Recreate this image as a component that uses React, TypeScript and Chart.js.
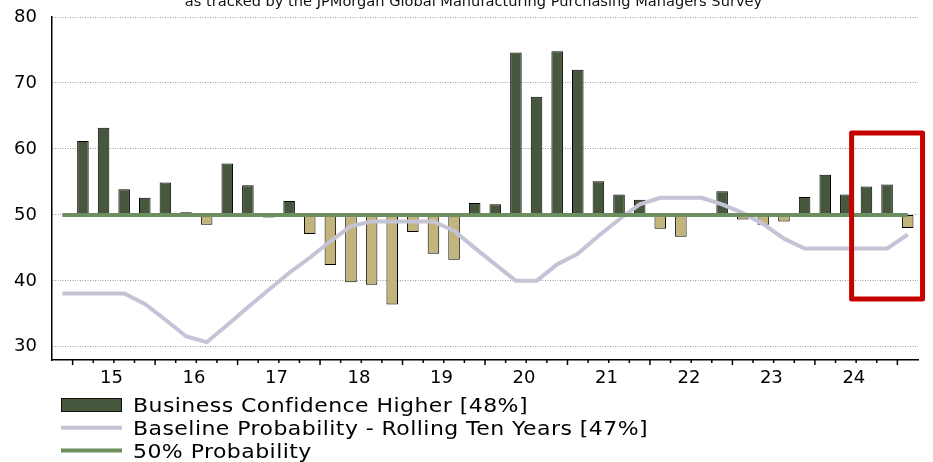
import React, { useEffect, useRef } from 'react';
import { Chart, registerables } from 'chart.js';

Chart.register(...registerables);

// Quarterly survey periods, 2014 Q4 through 2025 Q1
const quarters = [
  '2014 Q4',
  '2015 Q1', '2015 Q2', '2015 Q3', '2015 Q4',
  '2016 Q1', '2016 Q2', '2016 Q3', '2016 Q4',
  '2017 Q1', '2017 Q2', '2017 Q3', '2017 Q4',
  '2018 Q1', '2018 Q2', '2018 Q3', '2018 Q4',
  '2019 Q1', '2019 Q2', '2019 Q3', '2019 Q4',
  '2020 Q1', '2020 Q2', '2020 Q3', '2020 Q4',
  '2021 Q1', '2021 Q2', '2021 Q3', '2021 Q4',
  '2022 Q1', '2022 Q2', '2022 Q3', '2022 Q4',
  '2023 Q1', '2023 Q2', '2023 Q3', '2023 Q4',
  '2024 Q1', '2024 Q2', '2024 Q3', '2024 Q4',
  '2025 Q1',
];

// Share of respondents reporting higher business confidence (%)
const businessConfidence: (number | null)[] = [
  null,
  61.2, 63.2, 53.9, 52.6,
  54.9, 50.4, 48.5, 57.8,
  54.5, 49.6, 52.1, 47.1,
  42.4, 39.8, 39.4, 36.4,
  47.4, 44.1, 43.2, 51.8,
  51.6, 74.6, 67.9, 74.8,
  72.0, 55.1, 53.1, 52.3,
  47.9, 46.7, 49.7, 53.6,
  49.3, 48.5, 49.0, 52.7,
  56.1, 53.1, 54.3, 54.6,
  48.0,
];

// Rolling ten-year baseline probability (%)
const baselineProbability = [
  38.1,
  38.1, 38.1, 38.1, 36.5,
  34.1, 31.6, 30.7, 33.3,
  36.0, 38.6, 41.2, 43.5,
  46.0, 48.3, 49.0, 49.0,
  49.0, 49.0, 47.6, 45.0,
  42.5, 40.0, 40.0, 42.5,
  44.1, 46.8, 49.3, 51.6,
  52.6, 52.6, 52.6, 51.6,
  50.3, 48.6, 46.4, 44.9,
  44.9, 44.9, 44.9, 44.9,
  47.0,
];

const PROBABILITY_LEVEL = 50;
const yTickValues = [30, 40, 50, 60, 70, 80];

const seriesNames = [
  'Business Confidence Higher [48%]',
  'Baseline Probability - Rolling Ten Years [47%]',
  '50% Probability',
];

const subtitle = 'as tracked by the JPMorgan Global Manufacturing Purchasing Managers Survey';

// Highlighted window: category index span and value span
const highlightFrom = 38.28;
const highlightTo = 41.72;
const highlightTop = 62.4;
const highlightBottom = 37.25;

const DARK = '#46573e';
const TAN = '#c3b47b';
const GRAY = '#c5c3d6';
const GREEN = '#6d8e5f';
const RED = '#c40000';
const FONT = '"DejaVu Sans", Verdana, sans-serif';

const subtitlePlugin = {
  id: 'cutSubtitle',
  afterDraw(chart: any) {
    const { ctx } = chart;
    ctx.save();
    ctx.font = `14.6px ${FONT}`;
    ctx.fillStyle = '#111';
    ctx.textAlign = 'center';
    ctx.textBaseline = 'alphabetic';
    ctx.fillText(subtitle, chart.width / 2 + 7, 5.5);
    ctx.restore();
  },
};

const tickMarksPlugin = {
  id: 'quarterTicks',
  afterDraw(chart: any) {
    const { ctx } = chart;
    const x = chart.scales.x;
    const yBase = chart.chartArea.bottom;
    ctx.save();
    ctx.strokeStyle = '#000';
    ctx.lineWidth = 1.5;
    for (let k = 1; k < quarters.length; k++) {
      const px = x.getPixelForValue(k - 0.5);
      const isYearStart = quarters[k].endsWith('Q1');
      const len = isYearStart ? 5 : 3;
      ctx.beginPath();
      ctx.moveTo(px, yBase);
      ctx.lineTo(px, yBase + len);
      ctx.stroke();
    }
    ctx.restore();
  },
};

const highlightPlugin = {
  id: 'highlightBox',
  afterDatasetsDraw(chart: any) {
    const { ctx } = chart;
    const { x, y } = chart.scales;
    const l = x.getPixelForValue(highlightFrom);
    const r = x.getPixelForValue(highlightTo);
    const t = y.getPixelForValue(highlightTop);
    const b = y.getPixelForValue(highlightBottom);
    ctx.save();
    ctx.strokeStyle = RED;
    ctx.lineWidth = 5;
    ctx.lineJoin = 'round';
    ctx.strokeRect(l, t, r - l, b - t);
    ctx.restore();
  },
};

const stackedLegendPlugin = {
  id: 'stackedLegend',
  afterDraw(chart: any) {
    const { ctx } = chart;
    const symLeft = 61;
    const symRight = 122;
    const textX = 133;
    chart.data.datasets.forEach((ds: any, i: number) => {
      const mid = 405 + i * 22.7;
      ctx.save();
      if (ds.type === 'bar') {
        ctx.fillStyle = DARK;
        ctx.fillRect(symLeft, mid - 6.5, symRight - symLeft, 13);
        ctx.strokeStyle = '#111';
        ctx.lineWidth = 1;
        ctx.strokeRect(symLeft + 0.5, mid - 6.5, symRight - symLeft - 1, 13);
      } else {
        ctx.strokeStyle = ds.borderColor;
        ctx.lineWidth = 4;
        ctx.beginPath();
        ctx.moveTo(symLeft, mid);
        ctx.lineTo(symRight, mid);
        ctx.stroke();
      }
      // legend text is set slightly wide
      ctx.translate(textX, mid + 7.2);
      ctx.scale(1.1, 1);
      ctx.font = `20px ${FONT}`;
      (ctx as any).letterSpacing = '0.4px';
      ctx.textAlign = 'left';
      ctx.textBaseline = 'alphabetic';
      ctx.fillStyle = '#000';
      ctx.fillText(ds.label, 0, 0);
      ctx.restore();
    });
  },
};

export default function App() {
  const canvasRef = useRef<HTMLCanvasElement>(null);

  useEffect(() => {
    const canvas = canvasRef.current;
    if (!canvas) return;

    const chart = new Chart(canvas, {
      type: 'bar',
      data: {
        labels: quarters,
        datasets: [
          {
            type: 'bar',
            label: seriesNames[0],
            data: businessConfidence.map((v) => (v === null ? null : [PROBABILITY_LEVEL, v])) as any,
            backgroundColor: businessConfidence.map((v) => (v !== null && v >= PROBABILITY_LEVEL ? DARK : TAN)),
            borderColor: '#000',
            borderWidth: 1,
            borderSkipped: false,
            barPercentage: 0.56,
            categoryPercentage: 1,
            order: 3,
          },
          {
            type: 'line',
            label: seriesNames[1],
            data: baselineProbability,
            borderColor: GRAY,
            borderWidth: 4,
            borderJoinStyle: 'round',
            pointRadius: 0,
            tension: 0,
            order: 2,
          },
          {
            type: 'line',
            label: seriesNames[2],
            data: quarters.map(() => PROBABILITY_LEVEL),
            borderColor: GREEN,
            borderWidth: 4,
            pointRadius: 0,
            tension: 0,
            order: 1,
          },
        ] as any,
      },
      options: {
        responsive: false,
        animation: false,
        devicePixelRatio: 1,
        layout: { padding: { left: 0, right: 15, top: 17, bottom: 70 } },
        plugins: {
          legend: { display: false },
          title: { display: false },
          tooltip: { enabled: false },
        },
        scales: {
          x: {
            type: 'category',
            offset: true,
            grid: { display: false },
            border: { display: true, color: '#000', width: 1.5 },
            ticks: {
              autoSkip: false,
              maxRotation: 0,
              minRotation: 0,
              padding: 0,
              labelOffset: 8,
              color: '#000',
              font: { family: FONT, size: 18 },
              callback: (_v: any, i: number) =>
                quarters[i].endsWith('Q2') ? quarters[i].slice(2, 4) : '',
            },
            afterFit: (s: any) => {
              s.height = 32;
            },
          },
          y: {
            min: 28,
            max: 80,
            afterBuildTicks: (s: any) => {
              s.ticks = yTickValues.map((value) => ({ value }));
            },
            ticks: {
              padding: 0,
              color: '#000',
              font: { family: FONT, size: 18 },
            },
            grid: {
              color: '#9a9a9a',
              lineWidth: 1,
              drawTicks: true,
              tickLength: 15,
              tickColor: 'rgba(0,0,0,0)',
            },
            border: { display: true, color: '#000', width: 1.5, dash: [1, 1.5] },
            afterFit: (s: any) => {
              s.width = 52;
            },
          },
        },
      },
      plugins: [subtitlePlugin, tickMarksPlugin, highlightPlugin, stackedLegendPlugin],
    });

    return () => chart.destroy();
  }, []);

  return (
    <div style={{ position: 'absolute', left: 0, top: 0, width: 933, height: 462, background: '#fff' }}>
      <canvas ref={canvasRef} width={933} height={462} style={{ display: 'block' }} />
    </div>
  );
}
